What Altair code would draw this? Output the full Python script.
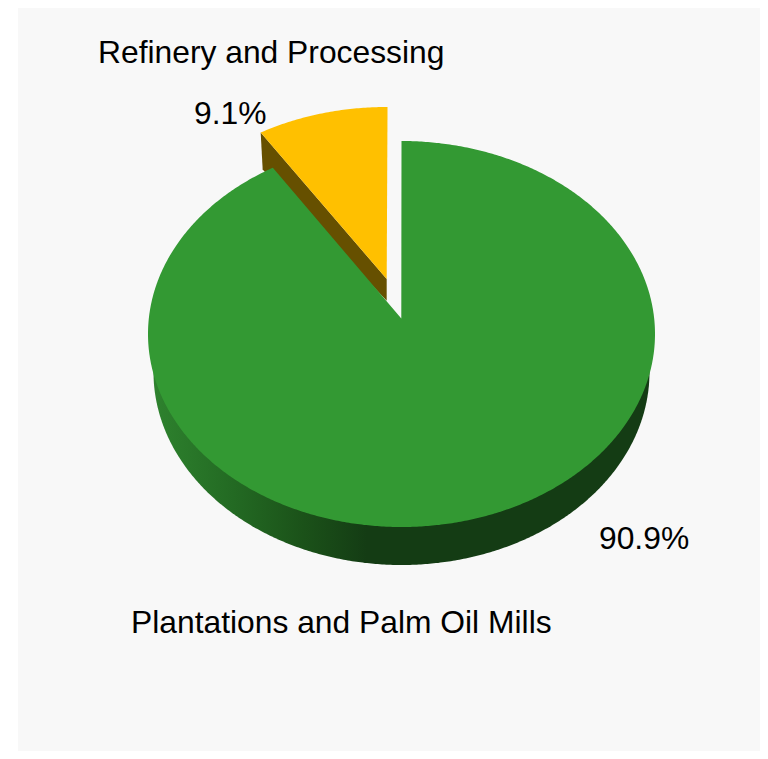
import numpy as np
import pandas as pd
import altair as alt

# --- chart values -----------------------------------------------------------
segments = ["Refinery and Processing", "Plantations and Palm Oil Mills"]
shares = [9.1, 90.9]
share_labels = ["9.1%", "90.9%"]

# --- layout (page pixels) ---------------------------------------------------
W, H = 752, 743
OX, OY = 8, 8
CX, CY, RX, RY = 401.5, 334.0, 253.5, 193.0


def to_df(points):
    xs, ys = zip(*points)
    return pd.DataFrame({"x": xs, "y": ys, "i": range(len(xs))})


def rim(a0, a1, cx=CX, cy=CY, rx=RX, ry=RY):
    t = np.radians(np.arange(a0, a1 + 0.25, 0.5))
    return list(zip(cx + rx * np.sin(t), cy - ry * np.cos(t)))


x_scale = alt.Scale(domain=[OX, OX + W], range=[0, W], nice=False, zero=False)
y_scale = alt.Scale(domain=[OY, OY + H], range=[0, H], nice=False, zero=False)


def shape(points, fill):
    return (
        alt.Chart(to_df(points))
        .mark_line(fill=fill, strokeWidth=0, interpolate="linear")
        .encode(
            x=alt.X("x:Q", scale=x_scale, axis=None),
            y=alt.Y("y:Q", scale=y_scale, axis=None),
            order=alt.Order("i:Q"),
        )
    )


small_sweep = shares[0] / sum(shares) * 360

# Green slice: foreshortened cut edge of the tilted disc
green_edge = small_sweep * 0.937
green_top = [(401.3, 318.5)] + rim(0, 360 - green_edge)

# Yellow slice, pulled out of the pie
yellow_sweep = small_sweep * 0.91
YCX, YCY = CX - 14.8, CY - 34.0
yellow_rim = rim(-yellow_sweep, 0, cx=YCX, cy=YCY)
yellow_apex = (YCX, 279.0)
yellow_top = [yellow_apex] + yellow_rim
yellow_wall = [
    yellow_apex,
    yellow_rim[0],
    (yellow_rim[0][0] + 2, yellow_rim[0][1] + 37),
    (YCX, 300.7),
]

# Green rim below the top face
green_side = rim(75, 285, cy=372.0, rx=248.0)

side_fill = alt.Gradient(
    gradient="linear",
    x1=0, x2=1, y1=0, y2=0,
    stops=[
        alt.GradientStop(offset=0.0, color="#2e822e"),
        alt.GradientStop(offset=0.16, color="#236a23"),
        alt.GradientStop(offset=0.3, color="#1b5219"),
        alt.GradientStop(offset=0.43, color="#143c14"),
        alt.GradientStop(offset=1.0, color="#143c14"),
    ],
)

panel = alt.Chart(pd.DataFrame({"a": [0]})).mark_rect(color="#f8f8f8").encode(
    x=alt.value(18 - OX), x2=alt.value(W), y=alt.value(0), y2=alt.value(H)
)


def label(text, px, py):
    return alt.Chart(pd.DataFrame({"t": [text]})).mark_text(
        font="Liberation Sans", fontSize=31.8, color="#000000",
        align="left", baseline="middle",
    ).encode(x=alt.value(px - OX), y=alt.value(py - OY), text="t:N")


chart = alt.layer(
    panel,
    shape(yellow_wall, "#665000"),
    shape(yellow_top, "#ffc000"),
    shape(green_side, side_fill),
    shape(green_top, "#339933"),
    label(segments[0], 98, 53),
    label(share_labels[0], 194, 114),
    label(share_labels[1], 599, 539),
    label(segments[1], 131, 623),
).properties(
    width=W, height=H, padding=0, autosize=alt.AutoSizeParams(type="none"),
    background="#ffffff",
).configure_view(stroke=None)

chart.save("out.html", embed_options={"renderer": "svg", "actions": False})
